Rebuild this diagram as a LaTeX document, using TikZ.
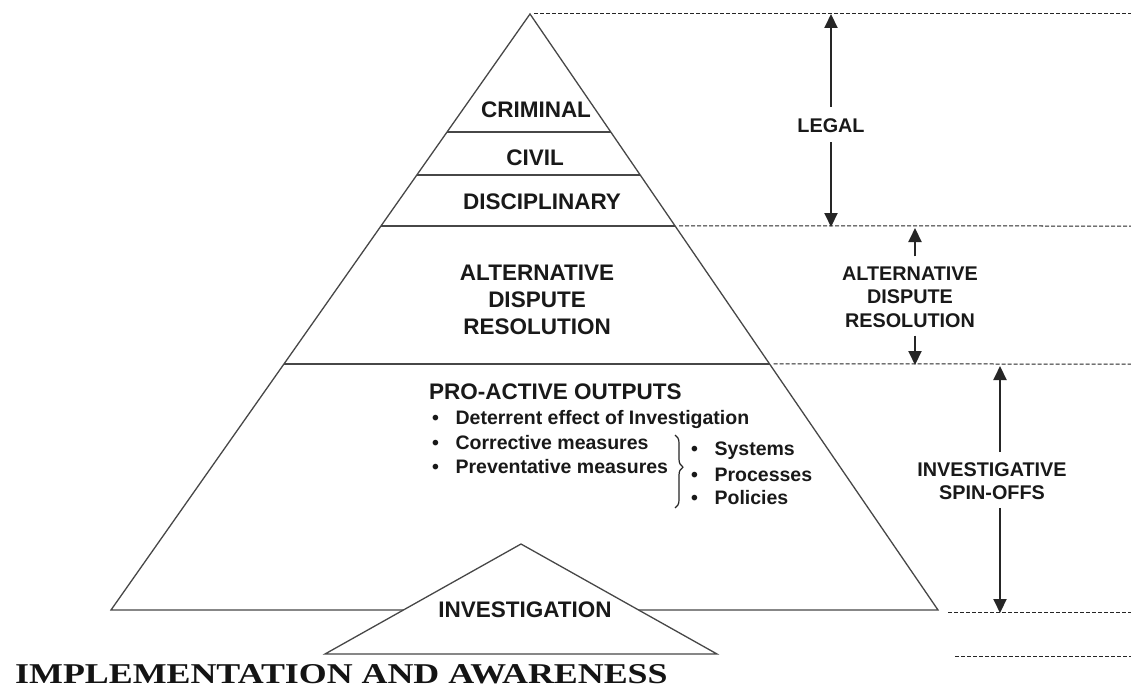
\documentclass[tikz,border=0pt]{standalone}
\usepackage{fontspec}
\setmainfont{Liberation Sans}
\newfontfamily\titlefont{Liberation Serif}
\usetikzlibrary{arrows.meta,decorations.pathreplacing,calc}
\begin{document}
\begin{tikzpicture}[x=1pt,y=-1pt,
  tri/.style={draw=black!72, line width=1.3pt, line join=miter},
  lvl/.style={draw=black!72, line width=1.3pt},
  dashline/.style={draw=black!85, line width=1pt, dash pattern=on 4pt off 2pt},
  dimarrow/.style={draw=black!85, line width=2pt, -{Triangle[length=14pt,width=13pt]}},
  biglabel/.style={font=\bfseries\fontsize{22.5}{27}\selectfont, text=black!90, align=center, inner sep=0pt},
  sidelabel/.style={font=\bfseries\fontsize{19.8}{23.5}\selectfont, text=black!90, align=center, inner sep=0pt},
  itemtext/.style={font=\bfseries\fontsize{19.5}{24}\selectfont, text=black!90, anchor=west, inner sep=0pt},
]
\useasboundingbox (0,0) rectangle (1131,687);
\fill[white] (0,0) rectangle (1131,687);

% main pyramid
\coordinate (A) at (530,14);
\coordinate (BL) at (111,610);
\coordinate (BR) at (938,610);
\draw[tri] (A) -- (BL) -- (BR) -- cycle;

% level lines
\foreach \y/\n in {132/a,175/b,226/c,364/d}{
  \coordinate (L\n) at ($(A)!{(\y-14)/596}!(BL)$);
  \coordinate (R\n) at ($(A)!{(\y-14)/596}!(BR)$);
  \draw[lvl] (L\n) -- (R\n);
}

% right-side dashed guides
\coordinate (E1) at (1131,14);
\coordinate (E2) at (1131,226);
\coordinate (E3) at (1131,364);
\coordinate (D4a) at (948,612);
\coordinate (E4) at (1131,612);
\coordinate (D5a) at (955,656);
\coordinate (E5) at (1131,656);
\draw[dashline] ([xshift=4pt]A) -- (E1);
\draw[dashline] ([xshift=4pt]Rc) -- (E2);
\draw[dashline] ([xshift=4pt]Rd) -- (E3);
\draw[dashline] (D4a) -- (E4);
\draw[dashline] (D5a) -- (E5);

% small triangle
\coordinate (SA) at (521,544);
\coordinate (SL) at (325,654);
\coordinate (SR) at (717,654);
\draw[tri, fill=white] (SA) -- (SL) -- (SR) -- cycle;

% pyramid labels
\node[biglabel] (crim) at (536,110) {CRIMINAL};
\node[biglabel] (civ) at (535,158) {CIVIL};
\node[biglabel] (disc) at (542,202) {DISCIPLINARY};
\node[biglabel] (adr) at (537,300) {ALTERNATIVE\\DISPUTE\\RESOLUTION};
\node[biglabel] (inv) at (525,610) {INVESTIGATION};

% pro-active block
\node[itemtext, font=\bfseries\fontsize{22.5}{27}\selectfont] (pro) at (429,392) {PRO-ACTIVE OUTPUTS};
\node[itemtext] (i1) at (432,419) {\textbullet\hspace{0.85em}Deterrent effect of Investigation};
\node[itemtext] (i2) at (432,443) {\textbullet\hspace{0.85em}Corrective measures};
\node[itemtext] (i3) at (432,467) {\textbullet\hspace{0.85em}Preventative measures};
\node[itemtext] (s1) at (691,451) {\textbullet\hspace{0.85em}Systems};
\node[itemtext] (s2) at (691,475) {\textbullet\hspace{0.85em}Processes};
\node[itemtext] (s3) at (691,498) {\textbullet\hspace{0.85em}Policies};
\coordinate (brT) at (675,435);
\coordinate (brB) at (675,508);
\draw[draw=black!85, line width=1.2pt, decorate, decoration={brace, amplitude=8pt, aspect=0.44}] (brT) -- (brB);

% side labels and arrows
\node[sidelabel] (legal) at (831,126) {LEGAL};
\coordinate (legT) at (831,14);
\coordinate (legB) at (831,227);
\draw[dimarrow] ([yshift=12pt]legal.north) -- (legT);
\draw[dimarrow] ([yshift=-9pt]legal.south) -- (legB);

\node[sidelabel] (adr2) at (910,297) {ALTERNATIVE\\DISPUTE\\RESOLUTION};
\coordinate (adrT) at (915,228);
\coordinate (adrB) at (915,365);
\draw[dimarrow] ([yshift=10pt]adr2.north -| adrT) -- (adrT);
\draw[dimarrow] ([yshift=-8pt]adr2.south -| adrB) -- (adrB);

\node[sidelabel] (spin) at (992,481) {INVESTIGATIVE\\SPIN-OFFS};
\coordinate (spT) at (1000,366);
\coordinate (spB) at (1000,613);
\draw[dimarrow] ([yshift=10pt]spin.north -| spT) -- (spT);
\draw[dimarrow] ([yshift=-8pt]spin.south -| spB) -- (spB);

% bottom title
\node[anchor=base west, inner sep=0pt, text=black!92, font=\titlefont\bfseries\fontsize{28.7}{30}\selectfont] (title) at (15,683) {\scalebox{1.25}[1]{IMPLEMENTATION AND AWARENESS}};
\end{tikzpicture}
\end{document}
